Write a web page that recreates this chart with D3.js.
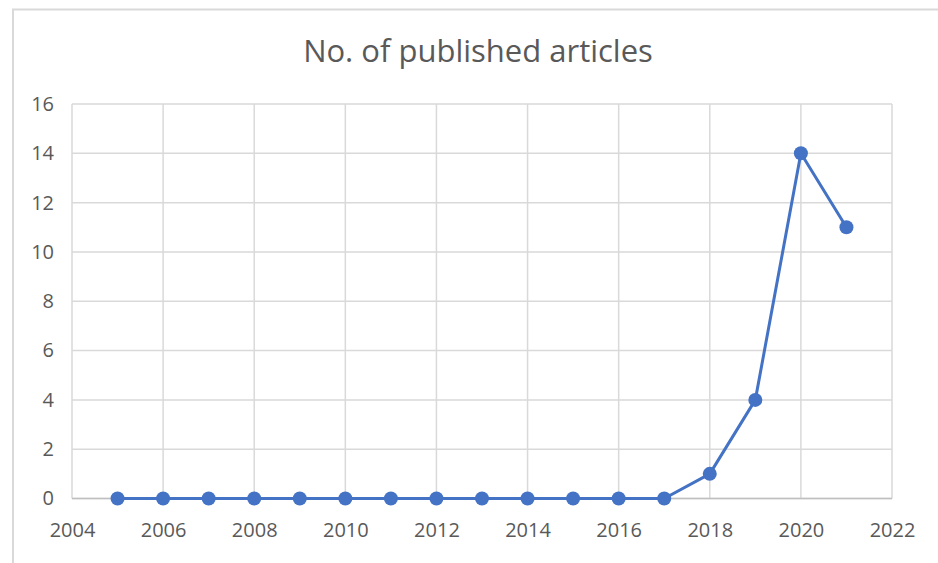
<!DOCTYPE html>
<html>
<head>
<meta charset="utf-8">
<script src="https://cdn.jsdelivr.net/npm/d3@7"></script>
<style>
  html, body { margin: 0; padding: 0; background: #fff; }
  svg { display: block; font-family: "Open Sans", sans-serif; }
</style>
</head>
<body>
<svg id="chart" width="938" height="563"></svg>
<script>
// Publications per year
const years = [2005, 2006, 2007, 2008, 2009, 2010, 2011, 2012, 2013, 2014, 2015, 2016, 2017, 2018, 2019, 2020, 2021];
const articles = [0, 0, 0, 0, 0, 0, 0, 0, 0, 0, 0, 0, 0, 1, 4, 14, 11];
const xTicks = [2004, 2006, 2008, 2010, 2012, 2014, 2016, 2018, 2020, 2022];
const yTicks = [0, 2, 4, 6, 8, 10, 12, 14, 16];
const chartTitle = "No. of published articles";

const svg = d3.select("#chart");
const W = 938, H = 563;
const plot = { left: 72, right: 892, top: 104, bottom: 498.5 };
const fontFamily = "'Open Sans', sans-serif";

// chart frame
svg.append("path")
  .attr("d", `M13,${H + 5} V9.5 H${W + 5}`)
  .attr("fill", "none")
  .attr("stroke", "#d9d9d9")
  .attr("stroke-width", 2);

const x = d3.scaleLinear().domain([2004, 2022]).range([plot.left, plot.right]);
const y = d3.scaleLinear().domain([0, 16]).range([plot.bottom, plot.top]);

// gridlines
const grid = svg.append("g").attr("stroke", "#d9d9d9").attr("stroke-width", 1.5);
grid.selectAll("line.v").data(xTicks).join("line")
  .attr("class", "v")
  .attr("x1", d => x(d)).attr("x2", d => x(d))
  .attr("y1", plot.top).attr("y2", plot.bottom);
grid.selectAll("line.h").data(yTicks).join("line")
  .attr("class", "h")
  .attr("x1", plot.left).attr("x2", plot.right)
  .attr("y1", d => y(d)).attr("y2", d => y(d));

// axes (labels only)
const yAxis = svg.append("g")
  .attr("transform", `translate(${plot.left},0)`)
  .call(d3.axisLeft(y).tickValues(yTicks).tickSize(0).tickPadding(18).tickFormat(d3.format("d")));
const xAxis = svg.append("g")
  .attr("transform", `translate(0,${plot.bottom})`)
  .call(d3.axisBottom(x).tickValues(xTicks).tickSize(0).tickPadding(24).tickFormat(d3.format("d")));
[yAxis, xAxis].forEach(a => {
  a.select(".domain").remove();
  a.selectAll("text")
    .attr("fill", "#595959")
    .style("font-size", "20px")
    .style("font-family", fontFamily);
});

// x-axis baseline drawn above gridlines
svg.append("line")
  .attr("x1", plot.left).attr("x2", plot.right)
  .attr("y1", y(0)).attr("y2", y(0))
  .attr("stroke", "#bfbfbf").attr("stroke-width", 1.5);

// series
const pts = years.map((yr, i) => [yr, articles[i]]);
svg.append("path")
  .datum(pts)
  .attr("fill", "none")
  .attr("stroke", "#4472c4")
  .attr("stroke-width", 3)
  .attr("stroke-linejoin", "round")
  .attr("d", d3.line().x(d => x(d[0])).y(d => y(d[1])));
svg.append("g").selectAll("circle").data(pts).join("circle")
  .attr("cx", d => x(d[0]))
  .attr("cy", d => y(d[1]))
  .attr("r", 7)
  .attr("fill", "#4472c4");

// title
svg.append("text")
  .attr("x", 478)
  .attr("y", 62)
  .attr("text-anchor", "middle")
  .attr("fill", "#595959")
  .style("font-size", "31px")
  .text(chartTitle);
</script>
</body>
</html>
